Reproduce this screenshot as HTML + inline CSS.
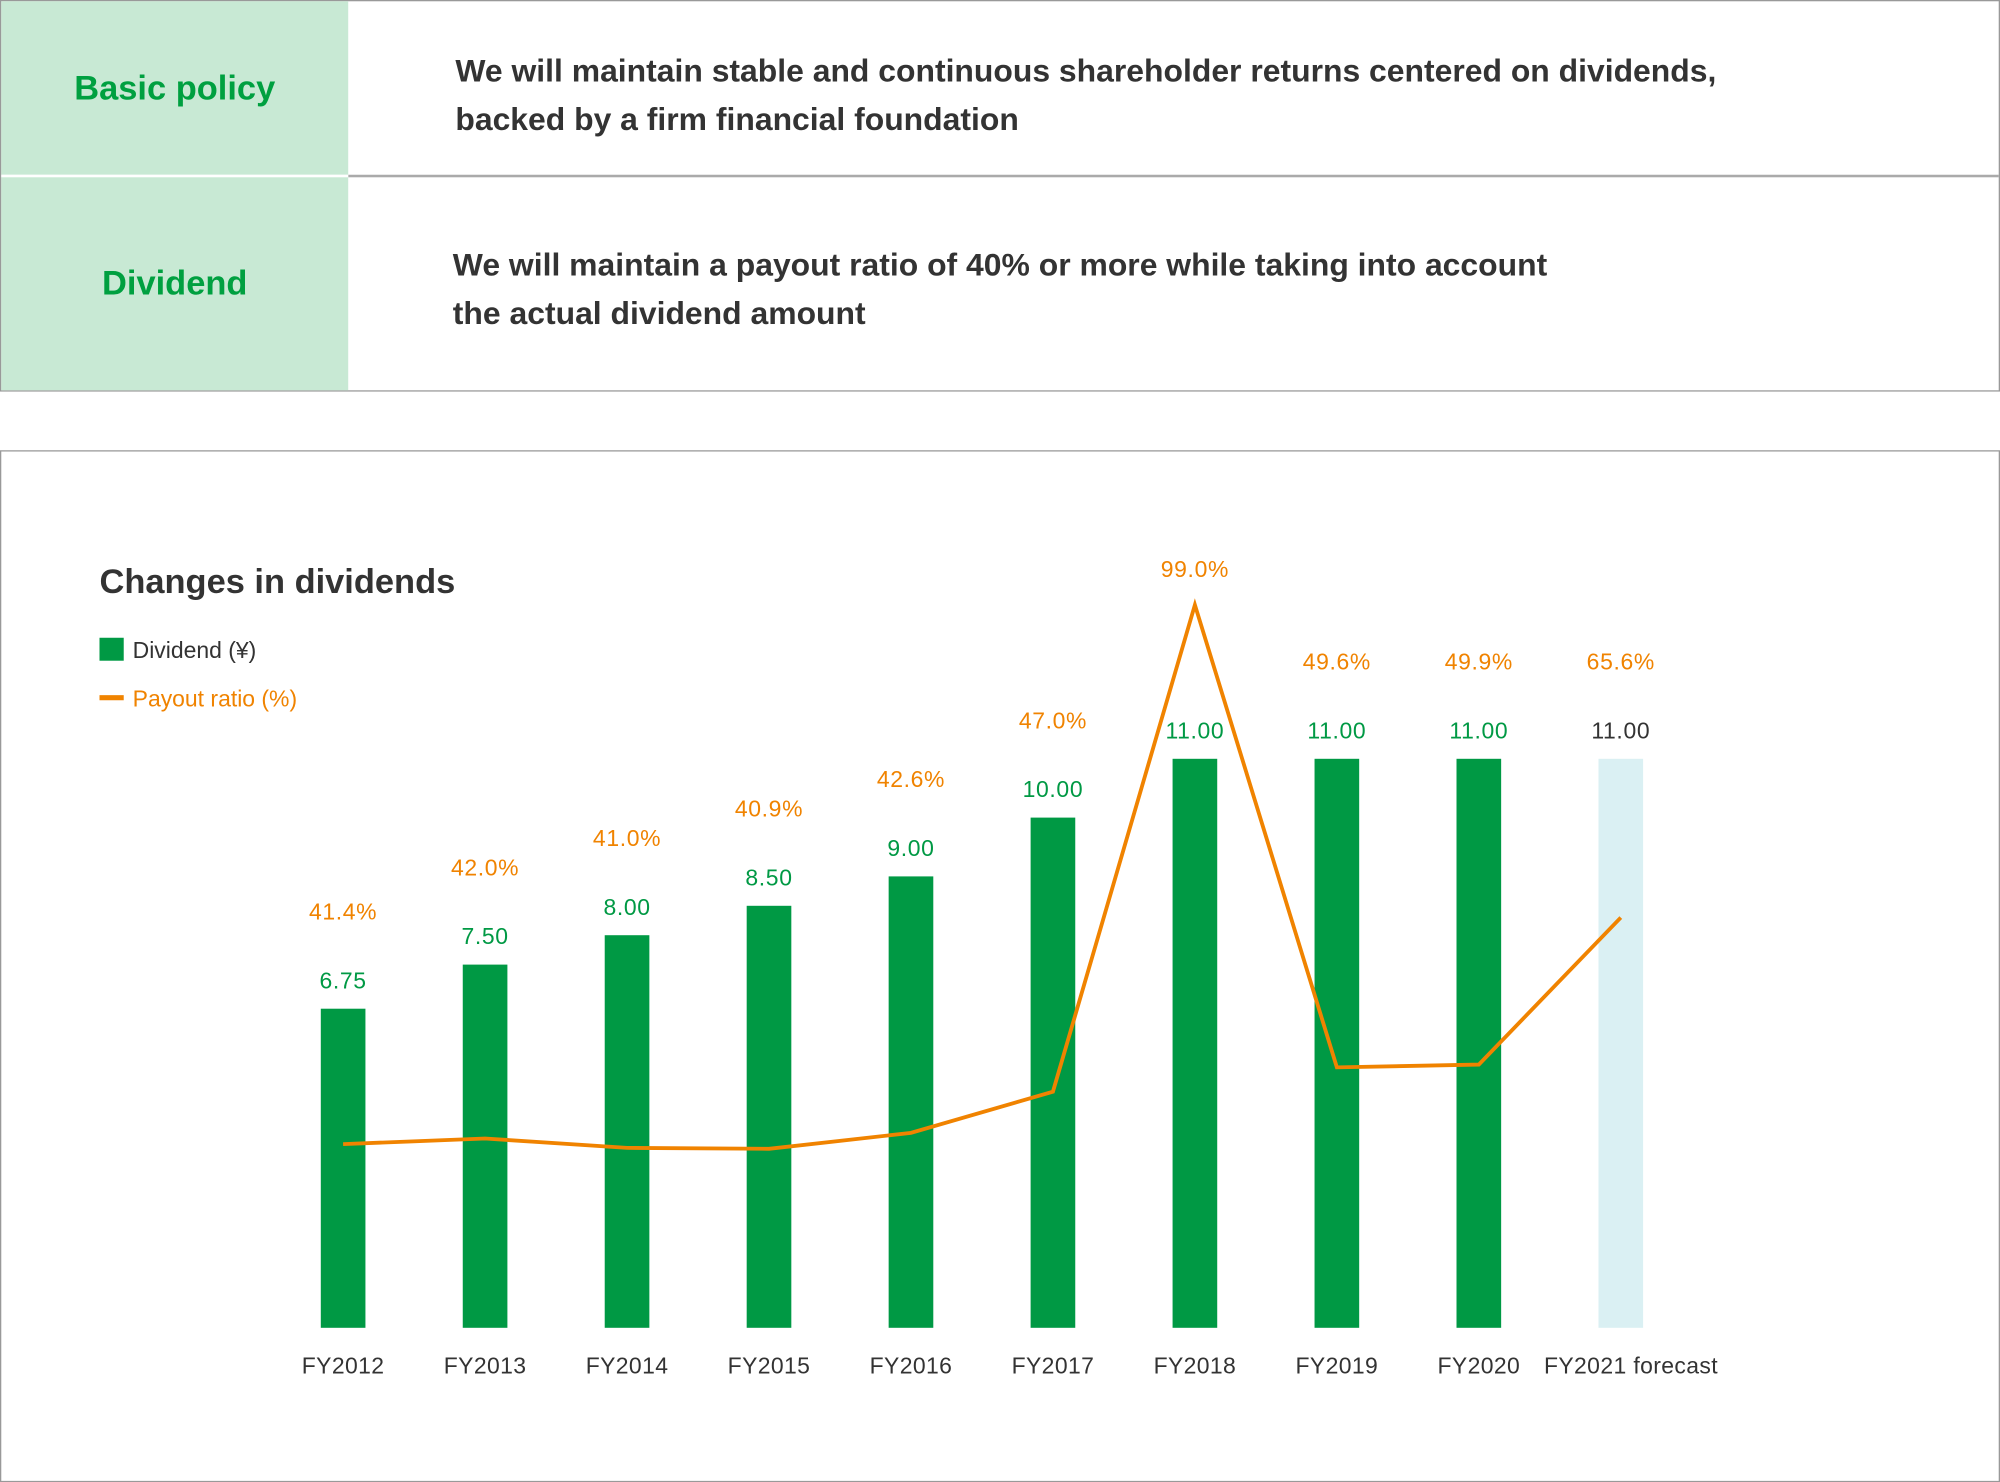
<!DOCTYPE html>
<html><head><meta charset="utf-8">
<style>
html,body{margin:0;padding:0;background:#fff;}
body{width:2000px;height:1482px;overflow:hidden;font-family:"Liberation Sans",sans-serif;}
#wrap{position:absolute;left:0;top:0;width:1568px;height:1162px;transform:scale(1.27551);transform-origin:0 0;}
.tbl{position:absolute;left:0;top:0;width:1566px;height:305px;border:1px solid #999;}
.left{position:absolute;left:0;width:272px;background:#c8e9d4;color:#00a040;font-weight:bold;font-size:27px;display:flex;align-items:center;justify-content:center;}
.right{position:absolute;left:272px;right:0;color:#333;font-weight:bold;font-size:25px;line-height:38px;}
.chartbox{position:absolute;left:0;top:353px;width:1566px;height:807px;border:1px solid #999;}
</style></head>
<body>
<div id="wrap">
  <div class="tbl">
    <div class="left" style="top:0;height:136px;">Basic policy</div>
    <div class="right" style="top:0;height:136px;border-bottom:2px solid #aaa;"><div style="position:absolute;left:84px;top:36px;white-space:nowrap;">We will maintain stable and continuous shareholder returns centered on dividends,<br>backed by a firm financial foundation</div></div>
    <div style="position:absolute;left:0;top:136px;width:272px;height:2px;background:#fff;"></div>
    <div class="left" style="top:138px;height:167px;">Dividend</div>
    <div class="right" style="top:138px;height:167px;"><div style="position:absolute;left:82px;top:50px;white-space:nowrap;">We will maintain a payout ratio of 40% or more while taking into account<br>the actual dividend amount</div></div>
  </div>
  <div class="chartbox"></div>
  <svg id="chart" width="1568" height="1162" viewBox="0 0 1568 1162" style="position:absolute;left:0;top:0;">
    <text x="78" y="465" font-size="27" font-weight="bold" fill="#333">Changes in dividends</text>
    <rect x="78" y="500" width="19" height="18" fill="#009944"/>
    <text x="104" y="516" font-size="18" fill="#333">Dividend (¥)</text>
    <rect x="78" y="545" width="19" height="4" fill="#f08300"/>
    <text x="104" y="554" font-size="18" fill="#f08300">Payout ratio (%)</text>
    <g id="bars"></g><g id="line"></g><g id="labels"></g>
  </svg>
</div>
<script>
const categories = ["FY2012","FY2013","FY2014","FY2015","FY2016","FY2017","FY2018","FY2019","FY2020","FY2021 forecast"];
const dividends = [6.75,7.50,8.00,8.50,9.00,10.00,11.00,11.00,11.00,11.00];
const dividendLabels = ["6.75","7.50","8.00","8.50","9.00","10.00","11.00","11.00","11.00","11.00"];
const payout = [41.4,42.0,41.0,40.9,42.6,47.0,99.0,49.6,49.9,65.6];
const payoutLabels = ["41.4%","42.0%","41.0%","40.9%","42.6%","47.0%","99.0%","49.6%","49.9%","65.6%"];
const forecastIndex = 9;

const NS = "http://www.w3.org/2000/svg";
const baseY = 1041;
function xPos(i){ return 269 + i*111.3; }
function yBar(v){ return baseY - (46.1*v - 61); }
function yLine(p){ return 897 - (p-41.4)*7.34; }
function mk(tag, attrs){ const e=document.createElementNS(NS,tag); for(const k in attrs) e.setAttribute(k,attrs[k]); return e; }

const gb=document.getElementById('bars'), gl=document.getElementById('line'), gt=document.getElementById('labels');
categories.forEach((c,i)=>{
  const x=xPos(i), top=yBar(dividends[i]);
  const r=mk('rect',{x:x-17.5,y:top,width:35,height:baseY-top,fill:i===forecastIndex?'#daf0f3':'#009944'});
  
  
  gb.appendChild(r);
  const vt=mk('text',{x:x,y:top-16,'text-anchor':'middle','font-size':18,fill:i===forecastIndex?'#333':'#009944','letter-spacing':'0.5'});
  vt.textContent=dividendLabels[i];
  
  
  gt.appendChild(vt);
  const py=Math.min(top-70, yLine(payout[i])-22);
  const pt=mk('text',{x:x,y:py,'text-anchor':'middle','font-size':18,fill:'#f08300','letter-spacing':'0.5'});
  pt.textContent=payoutLabels[i];
  
  
  gt.appendChild(pt);
  const xt=mk('text',{x:i===forecastIndex?x+8:x,y:1077,'text-anchor':'middle','font-size':18,fill:'#333','letter-spacing':'0.3'});
  xt.textContent=c;
  
  
  gt.appendChild(xt);
});
const pts=payout.map((p,i)=>xPos(i)+','+yLine(p)).join(' ');
const pl=mk('polyline',{points:pts,fill:'none',stroke:'#f08300','stroke-width':3,'stroke-linejoin':'miter'});


gl.appendChild(pl);
</script>
</body></html>
